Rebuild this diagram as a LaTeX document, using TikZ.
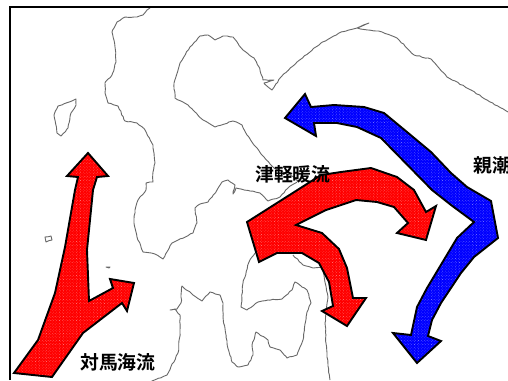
\documentclass[tikz,border=0pt]{standalone}
\usepackage{fontspec}
\newfontfamily\cjk{Noto Sans CJK JP Bold}
\usetikzlibrary{patterns.meta,decorations.pathmorphing}
\definecolor{coastgrey}{HTML}{686868}
\pgfmathsetseed{7}
\tikzset{
 coast/.style={draw=coastgrey,line width=0.9pt,line join=round,decorate,decoration={random steps,segment length=3pt,amplitude=0.45pt}},
 current/.style={draw=black,line width=1.9pt,line join=miter,miter limit=6},
 warmfill/.style={fill=red},
 coldfill/.style={fill=blue},
 dither/.style={pattern={Dots[radius=0.24pt,distance=2pt,angle=45]},pattern color=white},
 lab/.style={font=\cjk\fontsize{18.8}{19}\selectfont,inner sep=0pt,anchor=west,text=black}
}
\newcommand{\warmleft}{(88,153)--(108,176)--(97,177)--(93,190)--(87,250)--(89,301)--(113,288)--(110,279)--(134,283)--(127,311)--(122,303)--(83,333)--(52,377)--(14,373)--(38,340)--(55,293)--(65,247)--(75,190)--(78,177)--(67,176)--cycle}
\newcommand{\warmmid}{(247,222)--(299,189)--(321,175)--(341,172)--(371,168)--(397,177)--(414,190)--(426,212)--(436,206)--(426,240)--(397,233)--(408,223)--(394,207)--(377,202)--(356,200)--(326,210)--(296,225)--(322,233)--(339,249)--(347,268)--(353,298)--(366,298)--(347,326)--(322,311)--(333,306)--(329,282)--(319,263)--(302,253)--(277,253)--(259,262)--cycle}
\newcommand{\coldright}{(285,118)--(305,94)--(311,107)--(334,105)--(364,107)--(384,113)--(407,132)--(431,152)--(451,173)--(467,187)--(491,201)--(498,238)--(474,257)--(461,273)--(441,303)--(432,320)--(428,336)--(441,341)--(417,363)--(393,333)--(411,335)--(417,307)--(427,288)--(457,238)--(474,222)--(451,205)--(432,190)--(381,138)--(357,127)--(337,123)--(314,123)--(316,136)--cycle}
\begin{document}
\begin{tikzpicture}[x=1pt,y=-1pt]
\useasboundingbox (0,0) rectangle (508,380);
\fill[white] (0,0) rectangle (508,380);
% coasts
\draw[coast] (150,8)--(147,10)--(143,15)--(137,17)--(125,17)--(117,22)--(112,32)--(115,47)--(116,62)--(112,75)--(105,83)--(105,93)--(108,103)--(118,106)--(125,121)--(137,123)--(145,130)--(153,145)--(155,163)--(153,172)--(153,182)--(146,183)--(146,190)--(138,200)--(135,210)--(134,223)--(137,237)--(143,252)--(155,254)--(163,259)--(172,243)--(193,233)--(197,223)--(195,208)--(200,204)--(208,202)--(217,190)--(222,182)--(228,180)--(235,185)--(233,192)--(233,194)--(236,188)--(250,191)--(260,193)--(268,201)--(280,197)--(288,188)--(297,182);
\draw[coast] (508,112)--(487,100)--(471,90)--(447,77)--(431,59)--(414,55)--(397,38)--(382,32)--(357,28)--(369,23)--(357,28)--(341,32)--(321,43)--(297,62)--(281,77)--(272,90)--(264,83)--(274,80)--(263,80)--(259,67)--(254,58)--(243,50)--(233,37)--(223,36)--(215,40)--(208,35)--(200,36)--(190,47)--(180,63)--(174,83)--(175,98)--(188,105)--(203,120)--(215,127)--(233,121)--(242,125)--(247,135)--(254,145)--(264,157)--(274,168)--(294,177)--(299,182);
\draw[coast] (76,99)--(58,106)--(54,115)--(57,133)--(61,136)--(68,128)--(71,113)--(76,105)--cycle;
\draw[coast] (45,237)--(51,236)--(52,240)--(46,242)--cycle;
\draw[coast] (106,267)--(110,267)--(109,268)--cycle;
\draw[coast] (150,382)--(167,375)--(178,353)--(180,333)--(180,315)--(175,309)--(170,310)--(177,309)--(181,303)--(182,286)--(193,295)--(202,301)--(210,292)--(220,295)--(223,303)--(223,317)--(227,343)--(232,362)--(238,367)--(248,365)--(253,355)--(252,345)--(256,332)--(268,340)--(270,347)--(280,350)--(287,358)--(297,355)--(303,340)--(307,312)--(311,303)--(307,290)--(295,282)--(292,290)--(282,299)--(268,300)--(258,302)--(247,310)--(241,307)--(243,283)--(249,262)--(255,253);
\draw[coast] (293,255)--(303,265)--(313,268)--(322,267)--(328,297)--(325,323)--(327,357)--(330,380);
% frame
\draw[black,line width=1.6pt] (10,380)--(10,7)--(508,7);
% currents
\fill[warmfill] \warmleft; \fill[dither] \warmleft; \draw[current] \warmleft;
\fill[warmfill] \warmmid; \fill[dither] \warmmid; \draw[current] \warmmid;
\fill[coldfill] \coldright; \fill[dither] \coldright; \draw[current] \coldright;
% labels
\node[lab] (tsugaru) at (255,174) {津軽暖流};
\node[lab] (oyashio) at (473,165) {親潮};
\node[lab] (tsushima) at (80,362) {対馬海流};
\end{tikzpicture}
\end{document}
